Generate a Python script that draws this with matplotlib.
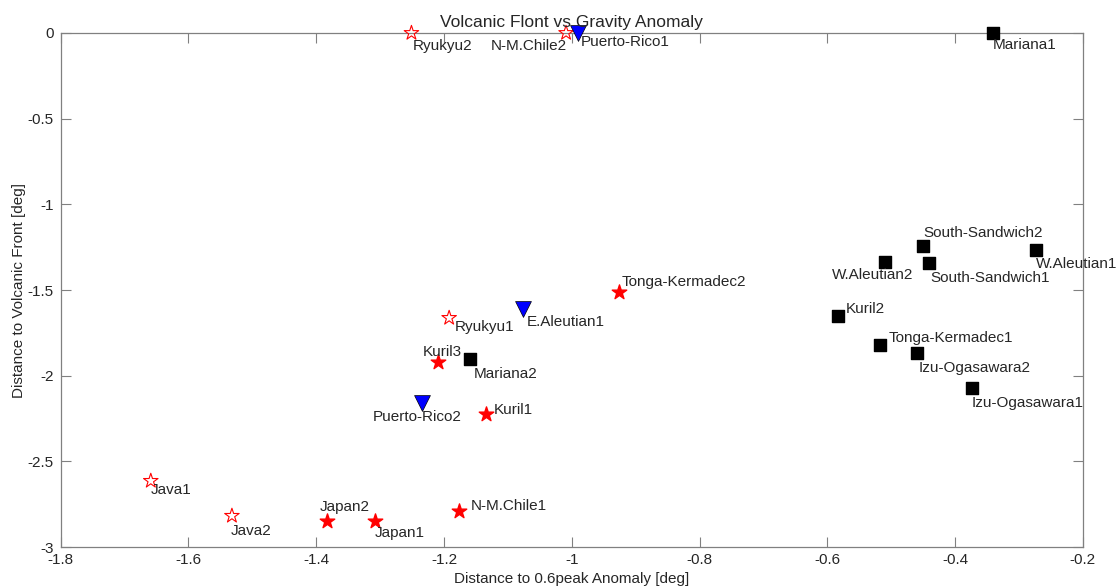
import matplotlib
matplotlib.use("Agg")
import matplotlib.pyplot as plt

plt.rcParams['font.family'] = ['Liberation Sans', 'DejaVu Sans']

# --- data ---
# red open stars
open_names = ['Ryukyu2', 'N-M.Chile2', 'Ryukyu1', 'Java1', 'Java2']
open_x = [-1.251, -1.009, -1.192, -1.659, -1.532]
open_y = [0.0, 0.0, -1.663, -2.614, -2.818]

# red filled stars
star_names = ['Tonga-Kermadec2', 'Kuril3', 'Kuril1', 'N-M.Chile1', 'Japan2', 'Japan1']
star_x = [-0.926, -1.209, -1.134, -1.176, -1.383, -1.308]
star_y = [-1.511, -1.919, -2.223, -2.789, -2.847, -2.850]

# blue down-triangles
tri_names = ['Puerto-Rico1', 'E.Aleutian1', 'Puerto-Rico2']
tri_x = [-0.991, -1.076, -1.234]
tri_y = [0.0, -1.610, -2.159]

# black squares
sq_names = ['Mariana1', 'Mariana2', 'South-Sandwich2', 'W.Aleutian2', 'South-Sandwich1',
            'W.Aleutian1', 'Kuril2', 'Tonga-Kermadec1', 'Izu-Ogasawara2', 'Izu-Ogasawara1']
sq_x = [-0.341, -1.159, -0.451, -0.509, -0.441, -0.274, -0.584, -0.518, -0.459, -0.374]
sq_y = [0.0, -1.902, -1.243, -1.336, -1.342, -1.266, -1.651, -1.820, -1.867, -2.071]

# label offsets in pixels (dx right, dy down) and alignment
label_style = {
    'Ryukyu2': (1, 13, 'left'), 'N-M.Chile2': (1, 13, 'right'), 'Ryukyu1': (6, 9, 'left'),
    'Java1': (0, 9, 'left'), 'Java2': (-1, 15, 'left'),
    'Tonga-Kermadec2': (3, -10, 'left'), 'Kuril3': (-16, -10, 'left'), 'Kuril1': (8, -4, 'left'),
    'N-M.Chile1': (11, -5, 'left'), 'Japan2': (-7, -14, 'left'), 'Japan1': (0, 12, 'left'),
    'Puerto-Rico1': (3, 9, 'left'), 'E.Aleutian1': (4, 13, 'left'), 'Puerto-Rico2': (-5, 14, 'center'),
    'Mariana1': (0, 12, 'left'), 'Mariana2': (4, 15, 'left'), 'South-Sandwich2': (1, -13, 'left'),
    'W.Aleutian2': (-13, 13, 'center'), 'South-Sandwich1': (1, 15, 'left'), 'W.Aleutian1': (0, 14, 'left'),
    'Kuril2': (8, -7, 'left'), 'Tonga-Kermadec1': (9, -7, 'left'), 'Izu-Ogasawara2': (1, 15, 'left'),
    'Izu-Ogasawara1': (0, 15, 'left'),
}

fig = plt.figure(figsize=(11.18, 5.88), dpi=100)
ax = fig.add_axes([0.0543, 0.0697, 0.9143, 0.8742])

ax.scatter(open_x, open_y, marker='*', s=120, facecolors='none', edgecolors='red',
           linewidths=0.8, zorder=3, clip_on=False)
ax.scatter(star_x, star_y, marker='*', s=120, color='red', zorder=3, clip_on=False)
ax.scatter(tri_x, tri_y, marker='v', s=130, color='blue', edgecolors='black',
           linewidths=0.5, zorder=3, clip_on=False)
ax.scatter(sq_x, sq_y, marker='s', s=65, color='black', zorder=3, clip_on=False)

for names, xs, ys in [(open_names, open_x, open_y), (star_names, star_x, star_y),
                      (tri_names, tri_x, tri_y), (sq_names, sq_x, sq_y)]:
    for n, x, y in zip(names, xs, ys):
        dx, dy, ha = label_style[n]
        ax.annotate(n, (x, y), xytext=(dx, -dy), textcoords='offset pixels',
                    ha=ha, va='center', fontsize=11, color='#262626',
                    annotation_clip=False)

ax.set_xlim(-1.8, -0.2)
ax.set_ylim(-3, 0)
ax.set_xticks([-1.8, -1.6, -1.4, -1.2, -1.0, -0.8, -0.6, -0.4, -0.2])
ax.set_xticklabels(['-1.8', '-1.6', '-1.4', '-1.2', '-1', '-0.8', '-0.6', '-0.4', '-0.2'])
ax.set_yticks([-3, -2.5, -2, -1.5, -1, -0.5, 0])
ax.set_yticklabels(['-3', '-2.5', '-2', '-1.5', '-1', '-0.5', '0'])
ax.tick_params(direction='in', top=True, right=True, length=7, width=0.8,
               color='#808080', labelcolor='#262626', labelsize=11)
ax.tick_params(axis='x', pad=4)
ax.tick_params(axis='y', pad=5)
for sp in ax.spines.values():
    sp.set_color('#808080')
    sp.set_linewidth(0.9)

ax.set_title('Volcanic Flont vs Gravity Anomaly', fontsize=12.5, color='#262626', pad=4)
ax.set_xlabel('Distance to 0.6peak Anomaly [deg]', fontsize=11, color='#262626', labelpad=4)
ax.set_ylabel('Distance to Volcanic Front [deg]', fontsize=11, color='#262626', labelpad=1)

fig.savefig('out.png', dpi=100)
